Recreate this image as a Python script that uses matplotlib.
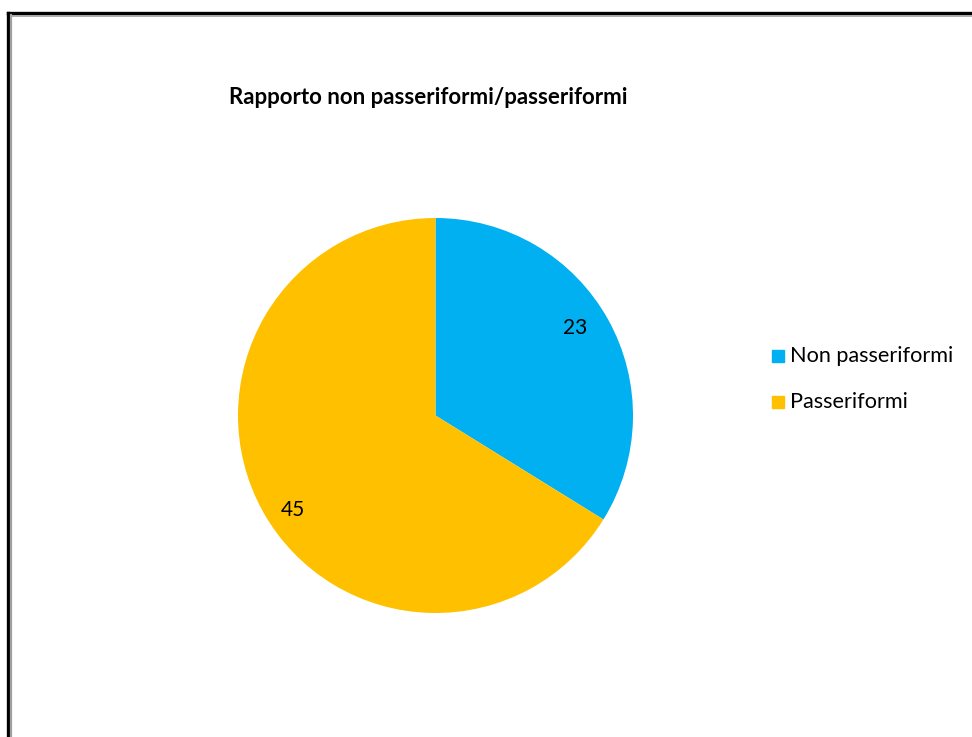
import matplotlib
matplotlib.use("Agg")
import matplotlib.pyplot as plt
import numpy as np
from matplotlib.lines import Line2D
from matplotlib.patches import Rectangle

categories = ["Non passeriformi", "Passeriformi"]
values = [23, 45]
colors = ["#00B0F0", "#FFC000"]
title = "Rapporto non passeriformi/passeriformi"

W, H = 972, 737
fig = plt.figure(figsize=(W / 100, H / 100), dpi=100)
plt.rcParams["font.family"] = ["Lato", "DejaVu Sans"]


def px(x, y):
    return x / W, 1 - y / H


# chart frame (black outer line, grey inner line)
fig.add_artist(Line2D([8 / W, 8 / W], [0, px(0, 13)[1]], color="black", lw=2.4))
fig.add_artist(Line2D([8 / W, 1], [px(0, 13)[1]] * 2, color="black", lw=2.4))
fig.add_artist(Line2D([11 / W, 11 / W], [0, px(0, 15)[1]], color="#a0a0a0", lw=1.6))
fig.add_artist(Line2D([11 / W, 1], [px(0, 15.5)[1]] * 2, color="#a0a0a0", lw=1.2))

cx, cy, r = 435.5, 415.5, 197.5
ax = fig.add_axes([(cx - r) / W, (H - cy - r) / H, 2 * r / W, 2 * r / H])
wedges, _ = ax.pie(values, colors=colors, startangle=90, counterclock=False,
                   radius=1.0, wedgeprops=dict(linewidth=0))
ax.set_xlim(-1, 1)
ax.set_ylim(-1, 1)
ax.set_aspect("equal")
ax.axis("off")

# value labels inside each slice
label_dist = [0.835, 0.865]
label_turn = [3.0, 4.5]
for w, v, d, t in zip(wedges, values, label_dist, label_turn):
    ang = np.deg2rad((w.theta1 + w.theta2) / 2 + t)
    ax.text(d * np.cos(ang), d * np.sin(ang), str(v), ha="center", va="center",
            fontsize=15, color="black")

fig.text(*px(428, 98), title, ha="center", va="center", fontsize=16,
         fontweight="bold", color="black")

# legend
for i, (c, name) in enumerate(zip(colors, categories)):
    yy = 356 + i * 46
    fig.add_artist(Rectangle(px(772, yy + 6), 12 / W, 12 / H, color=c,
                             transform=fig.transFigure))
    fig.text(*px(790, yy), name, ha="left", va="center", fontsize=15.6,
             color="black")

fig.savefig("out.png", dpi=100)
